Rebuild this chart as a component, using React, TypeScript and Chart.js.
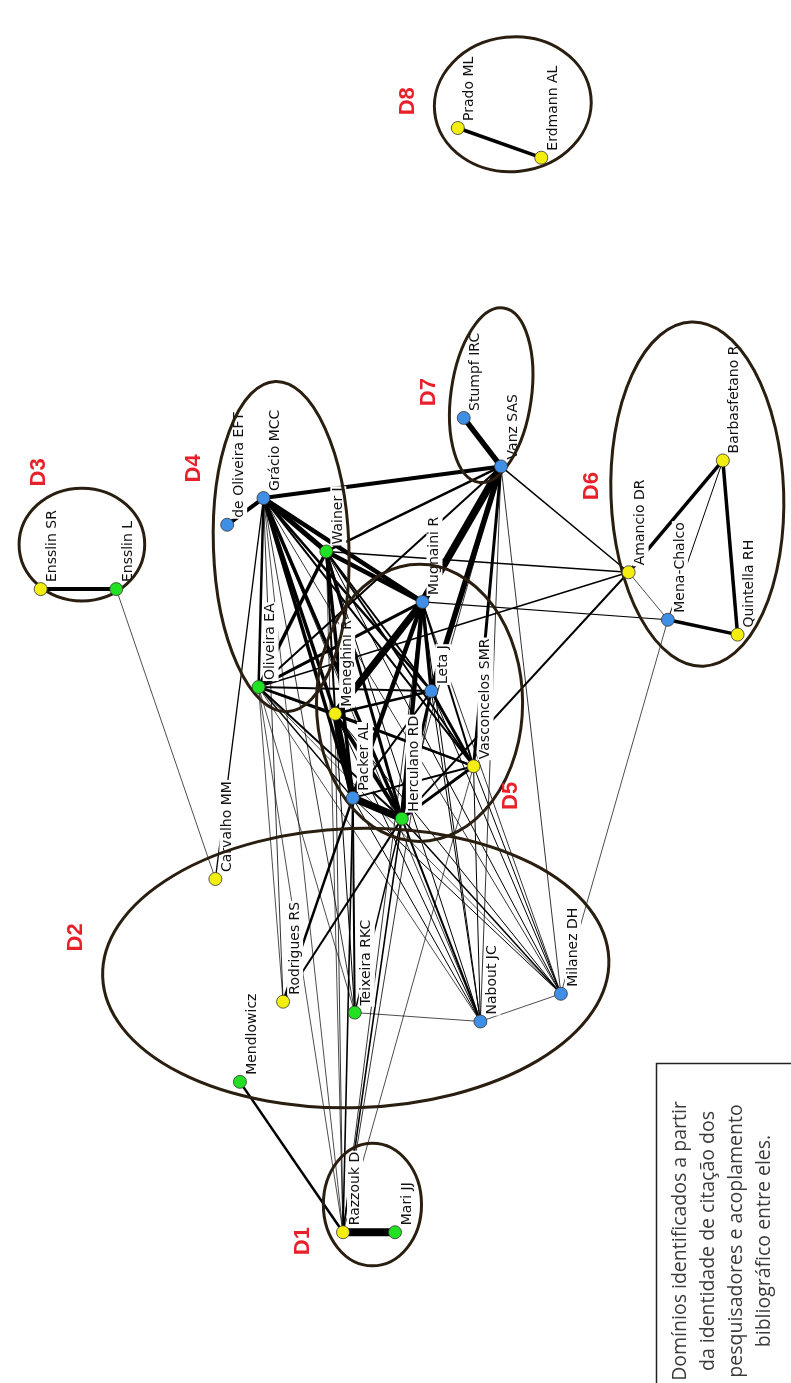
import React, { useEffect, useRef } from "react";
import { Chart, registerables } from "chart.js";

Chart.register(...registerables);

// ---------- DATA ----------
const nodeNames = [
  "Razzouk D", "Mari JJ", "Mendlowicz", "Rodrigues RS", "Teixeira RKC",
  "Nabout JC", "Milanez DH", "Carvalho MM", "Packer AL", "Herculano RD",
  "Vasconcelos SMR", "Meneghini R", "Leta J", "Oliveira EA", "Mugnaini R",
  "Wainer J", "Grácio MCC", "de Oliveira EFT", "Ensslin SR", "Ensslin L",
  "Stumpf IRC", "Vanz SAS", "Amancio DR", "Mena-Chalco", "Quintella RH",
  "Barbasfetano R", "Prado ML", "Erdmann AL",
];
const nodeX = [342, 395, 237, 281, 354, 482, 564, 212, 352, 402, 475, 334, 432, 256, 423, 325, 261, 224, 34, 111, 465, 503, 633, 673, 744, 729, 459, 544];
const nodeY = [1238, 1238, 1086, 1005, 1016, 1025, 997, 881, 799, 820, 767, 714, 691, 687, 601, 550, 496, 523, 588, 588, 415, 464, 571, 619, 634, 458, 122, 152];
// 0 = blue, 1 = green, 2 = yellow
const nodeGroup = [2, 1, 1, 2, 1, 0, 0, 2, 0, 1, 2, 2, 0, 1, 0, 1, 0, 0, 2, 1, 0, 0, 2, 0, 2, 2, 2, 2];

// edges: [from, to, strength]
const edges: [string, string, number][] = [
  ["Razzouk D", "Mari JJ", 8],
  ["Razzouk D", "Mendlowicz", 2.5],
  ["Razzouk D", "Oliveira EA", 0.7],
  ["Razzouk D", "Meneghini R", 0.8],
  ["Razzouk D", "Grácio MCC", 0.7],
  ["Razzouk D", "Wainer J", 0.7],
  ["Razzouk D", "Packer AL", 1.6],
  ["Razzouk D", "Herculano RD", 1.6],
  ["Razzouk D", "Mugnaini R", 0.8],
  ["Razzouk D", "Leta J", 0.8],
  ["Razzouk D", "Vasconcelos SMR", 0.7],
  ["Ensslin SR", "Ensslin L", 4],
  ["Ensslin L", "Carvalho MM", 0.7],
  ["Carvalho MM", "Grácio MCC", 1.3],
  ["Prado ML", "Erdmann AL", 3.5],
  ["Stumpf IRC", "Vanz SAS", 5.5],
  ["Vanz SAS", "Mugnaini R", 7.5],
  ["Vanz SAS", "Leta J", 5.5],
  ["Vanz SAS", "Grácio MCC", 4],
  ["Vanz SAS", "Vasconcelos SMR", 3],
  ["Vanz SAS", "Wainer J", 2.5],
  ["Vanz SAS", "Oliveira EA", 2],
  ["Vanz SAS", "Amancio DR", 1.5],
  ["Vanz SAS", "Herculano RD", 0.8],
  ["Vanz SAS", "Nabout JC", 0.8],
  ["Vanz SAS", "Milanez DH", 0.8],
  ["Amancio DR", "Barbasfetano R", 3.5],
  ["Amancio DR", "Mena-Chalco", 0.7],
  ["Amancio DR", "Wainer J", 1.5],
  ["Amancio DR", "Oliveira EA", 1.5],
  ["Amancio DR", "Herculano RD", 2],
  ["Mena-Chalco", "Quintella RH", 3.5],
  ["Mena-Chalco", "Barbasfetano R", 1],
  ["Mena-Chalco", "Mugnaini R", 1.2],
  ["Mena-Chalco", "Milanez DH", 0.7],
  ["Barbasfetano R", "Quintella RH", 3.5],
  ["de Oliveira EFT", "Grácio MCC", 4],
  ["Grácio MCC", "Wainer J", 5],
  ["Grácio MCC", "Mugnaini R", 4.5],
  ["Grácio MCC", "Meneghini R", 3.5],
  ["Grácio MCC", "Packer AL", 3.5],
  ["Grácio MCC", "Herculano RD", 3.5],
  ["Grácio MCC", "Leta J", 2.5],
  ["Grácio MCC", "Vasconcelos SMR", 2],
  ["Grácio MCC", "Oliveira EA", 2.5],
  ["Grácio MCC", "Teixeira RKC", 0.8],
  ["Grácio MCC", "Rodrigues RS", 0.8],
  ["Grácio MCC", "Nabout JC", 0.8],
  ["Grácio MCC", "Milanez DH", 0.8],
  ["Wainer J", "Mugnaini R", 4.5],
  ["Wainer J", "Oliveira EA", 3.5],
  ["Wainer J", "Meneghini R", 2],
  ["Wainer J", "Packer AL", 3.5],
  ["Wainer J", "Herculano RD", 3],
  ["Wainer J", "Leta J", 2],
  ["Wainer J", "Vasconcelos SMR", 2],
  ["Wainer J", "Nabout JC", 1],
  ["Wainer J", "Milanez DH", 1],
  ["Oliveira EA", "Meneghini R", 2.5],
  ["Oliveira EA", "Leta J", 2],
  ["Oliveira EA", "Mugnaini R", 3],
  ["Oliveira EA", "Herculano RD", 2],
  ["Oliveira EA", "Vasconcelos SMR", 2],
  ["Oliveira EA", "Packer AL", 1.5],
  ["Oliveira EA", "Nabout JC", 0.7],
  ["Oliveira EA", "Milanez DH", 0.7],
  ["Oliveira EA", "Teixeira RKC", 0.7],
  ["Oliveira EA", "Rodrigues RS", 0.7],
  ["Meneghini R", "Packer AL", 6.5],
  ["Meneghini R", "Mugnaini R", 7],
  ["Meneghini R", "Herculano RD", 4],
  ["Meneghini R", "Leta J", 2.5],
  ["Meneghini R", "Vasconcelos SMR", 2],
  ["Meneghini R", "Nabout JC", 1],
  ["Meneghini R", "Milanez DH", 1],
  ["Meneghini R", "Teixeira RKC", 1],
  ["Packer AL", "Herculano RD", 7.5],
  ["Packer AL", "Mugnaini R", 4.5],
  ["Packer AL", "Leta J", 2],
  ["Packer AL", "Vasconcelos SMR", 2],
  ["Packer AL", "Rodrigues RS", 2.5],
  ["Packer AL", "Teixeira RKC", 2],
  ["Packer AL", "Nabout JC", 1],
  ["Packer AL", "Milanez DH", 1],
  ["Herculano RD", "Mugnaini R", 4.5],
  ["Herculano RD", "Leta J", 3],
  ["Herculano RD", "Vasconcelos SMR", 3],
  ["Herculano RD", "Nabout JC", 2],
  ["Herculano RD", "Milanez DH", 1.5],
  ["Herculano RD", "Teixeira RKC", 1.5],
  ["Herculano RD", "Rodrigues RS", 2],
  ["Leta J", "Mugnaini R", 3.5],
  ["Leta J", "Vasconcelos SMR", 3],
  ["Leta J", "Nabout JC", 1],
  ["Leta J", "Milanez DH", 1],
  ["Mugnaini R", "Vasconcelos SMR", 2],
  ["Mugnaini R", "Nabout JC", 1],
  ["Mugnaini R", "Milanez DH", 0.8],
  ["Vasconcelos SMR", "Nabout JC", 1],
  ["Vasconcelos SMR", "Milanez DH", 1],
  ["Nabout JC", "Milanez DH", 0.7],
  ["Nabout JC", "Teixeira RKC", 0.7],
];

// domains (ellipses): label, center x, center y, radius x, radius y, rotation (deg)
const domainNames = ["D1", "D2", "D3", "D4", "D5", "D6", "D7", "D8"];
const domainCx = [372, 355, 76, 279, 420, 703, 493, 515];
const domainCy = [1210, 971, 543, 545, 703, 492, 392, 98];
const domainRx = [50, 258, 64, 69, 105, 88, 41, 80];
const domainRy = [62, 141, 57, 167, 140, 174, 89, 68];
const domainRot = [0, -2, 0, -2, 0, -2, 8, -6];
const domainLabelX = [301, 70, 32, 190, 513, 596, 430, 408];
const domainLabelY = [1247, 940, 470, 466, 797, 484, 389, 95];

const noteLines = [
  "Domínios identificados a partir",
  "da identidade de citação dos",
  "pesquisadores e acoplamento",
  "bibliográfico entre eles.",
];

const groupColors = ["#3f8fe6", "#22e022", "#f4ee10"];

export default function App() {
  const ref = useRef<HTMLCanvasElement | null>(null);

  useEffect(() => {
    if (!ref.current) return;
    const idx = (n: string) => nodeNames.indexOf(n);

    const edgeSets = edges.map(([a, b, w]) => ({
      type: "scatter" as const,
      data: [
        { x: nodeX[idx(a)], y: nodeY[idx(a)] },
        { x: nodeX[idx(b)], y: nodeY[idx(b)] },
      ],
      showLine: true,
      borderColor: "#000",
      backgroundColor: "#000",
      borderWidth: w,
      pointRadius: 0,
      order: 2,
    }));

    const nodeSet = {
      type: "scatter" as const,
      data: nodeNames.map((_, i) => ({ x: nodeX[i], y: nodeY[i] })),
      pointRadius: 6.5,
      pointBackgroundColor: nodeGroup.map((g) => groupColors[g]),
      pointBorderColor: "#333",
      pointBorderWidth: 0.8,
      showLine: false,
      order: 0,
    };
    const nodeIndex = edgeSets.length;

    const overlay = {
      id: "overlay",
      beforeDatasetDraw(chart: any, args: any) {
        if (args.index !== nodeIndex) return;
        const ctx = chart.ctx;
        const xs = chart.scales.x;
        const ys = chart.scales.y;
        // labels with white background
        ctx.save();
        ctx.font = '14px "DejaVu Sans"';
        ctx.textBaseline = "top";
        ctx.textAlign = "left";
        nodeNames.forEach((name, i) => {
          const px = xs.getPixelForValue(nodeX[i]);
          const py = ys.getPixelForValue(nodeY[i]);
          ctx.save();
          ctx.translate(px + 5, py - 7);
          ctx.rotate(-Math.PI / 2);
          const w = ctx.measureText(name).width;
          ctx.fillStyle = "#fff";
          ctx.fillRect(-1, -1, w + 2, 16);
          ctx.fillStyle = "#111";
          ctx.fillText(name, 0, 0);
          ctx.restore();
        });
        ctx.restore();
        // ellipses
        ctx.save();
        ctx.strokeStyle = "#2a1e10";
        ctx.lineWidth = 3;
        domainNames.forEach((_, i) => {
          const cx = xs.getPixelForValue(domainCx[i]);
          const cy = ys.getPixelForValue(domainCy[i]);
          const rx = Math.abs(xs.getPixelForValue(domainCx[i] + domainRx[i]) - cx);
          const ry = Math.abs(ys.getPixelForValue(domainCy[i] + domainRy[i]) - cy);
          ctx.beginPath();
          ctx.ellipse(cx, cy, rx, ry, (domainRot[i] * Math.PI) / 180, 0, Math.PI * 2);
          ctx.stroke();
        });
        ctx.restore();
      },
      afterDraw(chart: any) {
        const ctx = chart.ctx;
        const xs = chart.scales.x;
        const ys = chart.scales.y;
        // domain labels
        ctx.save();
        ctx.font = 'bold 22px "Liberation Sans"';
        ctx.fillStyle = "#e8202a";
        ctx.textAlign = "center";
        ctx.textBaseline = "middle";
        domainNames.forEach((d, i) => {
          ctx.save();
          ctx.translate(xs.getPixelForValue(domainLabelX[i]), ys.getPixelForValue(domainLabelY[i]));
          ctx.rotate(-Math.PI / 2);
          ctx.fillText(d, 0, 0);
          ctx.restore();
        });
        ctx.restore();
        // note box
        ctx.save();
        ctx.strokeStyle = "#222";
        ctx.lineWidth = 1.5;
        ctx.strokeRect(656.5, 1063.5, 200, 400);
        ctx.font = '19.5px "Open Sans"';
        ctx.fillStyle = "#3a3a3a";
        ctx.textAlign = "center";
        ctx.textBaseline = "middle";
        ctx.translate(722, 1241);
        ctx.rotate(-Math.PI / 2);
        noteLines.forEach((t, i) => {
          ctx.fillText(t, 0, (i - 1.5) * 28);
        });
        ctx.restore();
      },
    };

    const chart = new Chart(ref.current, {
      type: "scatter",
      data: { datasets: [...edgeSets, nodeSet] as any },
      options: {
        animation: false,
        responsive: false,
        maintainAspectRatio: false,
        layout: { padding: 0 },
        plugins: { legend: { display: false }, tooltip: { enabled: false } },
        scales: {
          x: { type: "linear", min: 0, max: 791, display: false },
          y: { type: "linear", min: 0, max: 1383, reverse: true, display: false },
        },
      },
      plugins: [overlay],
    });
    return () => chart.destroy();
  }, []);

  return (
    <div style={{ position: "absolute", left: 0, top: 0, width: 791, height: 1383, background: "#fff" }}>
      <canvas ref={ref} width={791} height={1383} style={{ width: 791, height: 1383, display: "block" }} />
    </div>
  );
}
